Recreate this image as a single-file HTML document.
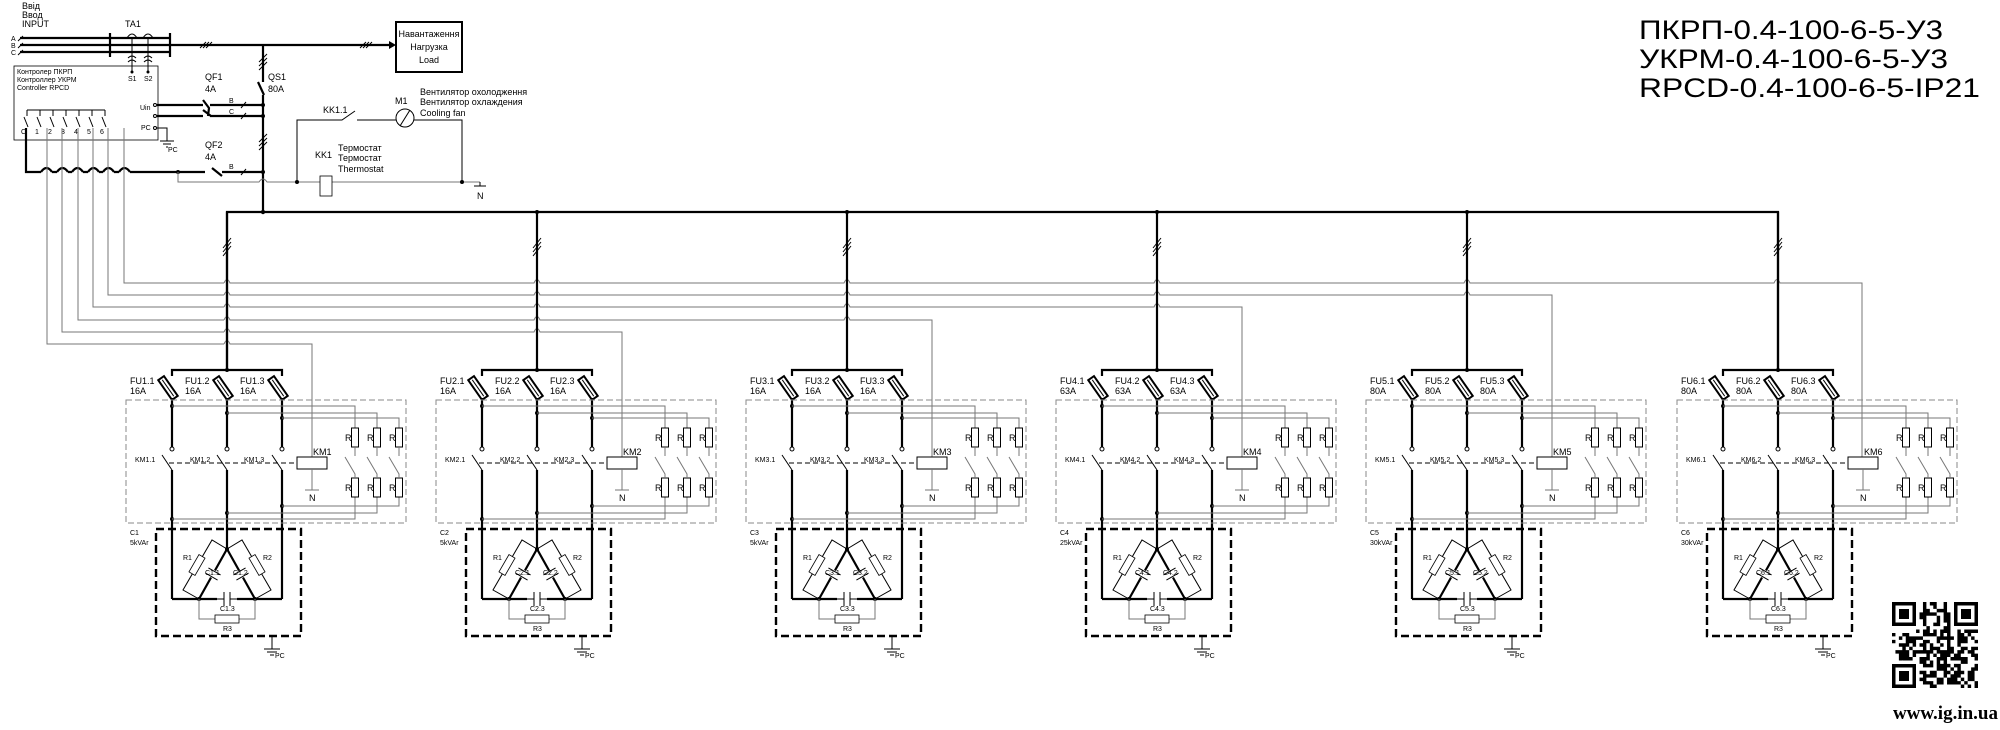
<!DOCTYPE html>
<html><head><meta charset="utf-8"><style>
html,body{margin:0;padding:0;background:#fff;}
svg{display:block;font-family:"Liberation Sans","DejaVu Sans",sans-serif;}
.t{font-size:9px;fill:#000}
.s{font-size:7px;fill:#000}
.k{stroke:#000;stroke-width:2.2;fill:none}
.n{stroke:#000;stroke-width:1;fill:none}
.g{stroke:#777;stroke-width:1;fill:none}
</style></head><body>
<svg width="2000" height="730" viewBox="0 0 2000 730" xmlns="http://www.w3.org/2000/svg">
<defs>
<g id="fuse"><rect x="-3.5" y="-12" width="7" height="24" fill="#fff" stroke="#000" stroke-width="2"/><line x1="0" y1="-10" x2="0" y2="10" stroke="#000" stroke-width="1"/></g>
<g id="rs"><rect x="-3.5" y="0" width="7" height="19" fill="#fff" stroke="#000" stroke-width="1"/></g>
<g id="br">
 <line class="k" x1="0" y1="212" x2="0" y2="370"/>
 <path class="n" stroke-width="1.6" d="M-4 252 L4 242 M-4 256 L4 246 M-4 248 L4 238"/>
 <path class="k" d="M-55 376 V370 H55 V376"/>
 <circle cx="0" cy="370" r="2"/>
 <use href="#fuse" transform="translate(-59,388) rotate(-35)"/>
 <use href="#fuse" transform="translate(-4,388) rotate(-35)"/>
 <use href="#fuse" transform="translate(51,388) rotate(-35)"/>
 <path class="k" d="M-55 398 V447 M0 398 V447 M55 398 V447"/>
 <circle cx="-55" cy="449" r="2" fill="#fff" stroke="#000"/><circle cx="0" cy="449" r="2" fill="#fff" stroke="#000"/><circle cx="55" cy="449" r="2" fill="#fff" stroke="#000"/>
 <path class="n" stroke-width="1.6" d="M-65 455 L-55 470 M-10 455 L0 470 M45 455 L55 470"/>
 <path class="k" d="M-55 470 V599 M0 470 V549 M55 470 V599 M-55 599 H55"/>
 <path class="n" stroke-dasharray="5,3" d="M-58 463 H70"/>
 <circle cx="-55" cy="406" r="2"/><circle cx="0" cy="413" r="2"/><circle cx="55" cy="418" r="2"/>
 <circle cx="-55" cy="519" r="2"/><circle cx="0" cy="513" r="2"/><circle cx="55" cy="506" r="2"/>
 <path class="g" d="M-55 406 H128 V428 M0 413 H150 V428 M55 418 H172 V428"/>
 <path class="g" d="M-55 519 H128 V497 M0 513 H150 V497 M55 506 H172 V497"/>
 <use href="#rs" transform="translate(128,428)"/><use href="#rs" transform="translate(150,428)"/><use href="#rs" transform="translate(172,428)"/>
 <use href="#rs" transform="translate(128,478)"/><use href="#rs" transform="translate(150,478)"/><use href="#rs" transform="translate(172,478)"/>
 <path class="g" d="M128 447 V456 M118 457 L128 474 V478 M150 447 V456 M140 457 L150 474 V478 M172 447 V456 M162 457 L172 474 V478"/>
 <text class="t" x="118" y="441">R</text><text class="t" x="140" y="441">R</text><text class="t" x="162" y="441">R</text>
 <text class="t" x="118" y="491">R</text><text class="t" x="140" y="491">R</text><text class="t" x="162" y="491">R</text>
 <rect x="70" y="457" width="30" height="12" fill="#fff" stroke="#000"/>
 <path class="g" d="M85 469 V490 M78 490 H92"/>
 <text class="t" x="82" y="501">N</text>
 <rect x="-101" y="400" width="280" height="123" fill="none" stroke="#888" stroke-dasharray="6,3"/>
 <rect x="-71" y="529" width="145" height="107" fill="none" stroke="#000" stroke-width="2.4" stroke-dasharray="8,4"/>
 <path class="k" d="M-28 599 L0 549 L28 599"/>
 <circle cx="0" cy="549" r="2"/><circle cx="-28" cy="599" r="2"/><circle cx="28" cy="599" r="2"/>
 <rect x="-10" y="594" width="20" height="10" fill="#fff" stroke="none"/>
 <path class="n" stroke-width="2" d="M-3 592 V606 M3 592 V606 M-10 599 H-3 M3 599 H10"/>
 <g transform="translate(-14,574) rotate(30)"><rect x="-8" y="-4" width="16" height="8" fill="#fff"/><path class="n" stroke-width="2" d="M-7 -3 H7 M-7 3 H7"/></g>
 <g transform="translate(14,574) rotate(-30)"><rect x="-8" y="-4" width="16" height="8" fill="#fff"/><path class="n" stroke-width="2" d="M-7 -3 H7 M-7 3 H7"/></g>
 <path class="n" stroke-width="0.8" d="M0 549 L-15 540 L-44 590 L-28 599 M0 549 L15 540 L44 590 L28 599"/>
 <g transform="translate(-30,565) rotate(30)"><rect x="-3.5" y="-10" width="7" height="20" fill="#fff" stroke="#000" stroke-width="0.8"/></g>
 <g transform="translate(30,565) rotate(-30)"><rect x="-3.5" y="-10" width="7" height="20" fill="#fff" stroke="#000" stroke-width="0.8"/></g>
 <path class="g" d="M-28 599 V619 H28 V599"/>
 <rect x="-12" y="615" width="24" height="8" fill="#fff" stroke="#000" stroke-width="0.8"/>
 <text class="s" x="-44" y="560">R1</text><text class="s" x="36" y="560">R2</text><text class="s" x="-4" y="631">R3</text>
 <path class="n" stroke-width="1.6" d="M45 636 V649 M37 649 H53 M40 652 H50 M43 655 H47"/>
 <text class="s" x="48" y="658">PC</text>
</g>
</defs>

<text x="1639" y="39" font-size="27" fill="#000" textLength="304" lengthAdjust="spacingAndGlyphs">ПКРП-0.4-100-6-5-У3</text>
<text x="1639" y="68" font-size="27" fill="#000" textLength="309" lengthAdjust="spacingAndGlyphs">УКРМ-0.4-100-6-5-У3</text>
<text x="1639" y="97" font-size="27" fill="#000" textLength="341" lengthAdjust="spacingAndGlyphs">RPCD-0.4-100-6-5-IP21</text>

<text class="t" x="22" y="9">Ввід</text><text class="t" x="22" y="18">Ввод</text><text class="t" x="22" y="27">INPUT</text>
<text class="s" x="11" y="41">A</text><text class="s" x="11" y="48">B</text><text class="s" x="11" y="55">C</text>
<path class="n" stroke-width="2" d="M18 41 L23 36 M18 48 L23 43 M18 55 L23 50"/>
<path class="k" d="M20 38 H170 M20 45 H170 M20 52 H170"/>
<path class="k" d="M110 33 V57 M170 33 V57"/>
<text class="t" x="125" y="27">TA1</text>
<path class="n" d="M127 38 Q132 30 137 38 M143 38 Q148 30 153 38 M132 38 V72 M148 38 V72"/>
<path class="n" d="M128 58 Q132 54 136 58 M128 62 Q132 58 136 62 M144 58 Q148 54 152 58 M144 62 Q148 58 152 62"/>
<circle cx="132" cy="72" r="1.5"/><circle cx="148" cy="72" r="1.5"/>
<text class="s" x="128" y="81">S1</text><text class="s" x="144" y="81">S2</text>
<path class="k" d="M170 45 H390"/>
<path fill="#000" d="M389 41 L396 45 L389 49Z"/>
<path class="n" stroke-width="1.6" d="M200 48 L206 42 M203 48 L209 42 M206 48 L212 42 M360 48 L366 42 M363 48 L369 42 M366 48 L372 42"/>
<rect x="396" y="22" width="66" height="50" fill="none" stroke="#000" stroke-width="2"/>
<text class="t" x="429" y="37" text-anchor="middle">Навантаження</text>
<text class="t" x="429" y="50" text-anchor="middle">Нагрузка</text>
<text class="t" x="429" y="63" text-anchor="middle">Load</text>

<rect x="14" y="66" width="144" height="74" fill="none" stroke="#000" stroke-width="0.8"/>
<text class="s" x="17" y="74">Контролер ПКРП</text>
<text class="s" x="17" y="82">Контроллер УКРМ</text>
<text class="s" x="17" y="90">Controller RPCD</text>
<path class="n" stroke-width="0.8" d="M27 110 H105 M27 110 V116 M40 110 V116 M53 110 V116 M66 110 V116 M79 110 V116 M92 110 V116 M105 110 V116"/>
<path class="n" stroke-width="0.8" d="M24 117 L28 127 M37 117 L41 127 M50 117 L54 127 M63 117 L67 127 M76 117 L80 127 M89 117 L93 127 M102 117 L106 127"/>
<text class="s" x="21" y="134">C</text><text class="s" x="35" y="134">1</text><text class="s" x="48" y="134">2</text><text class="s" x="61" y="134">3</text><text class="s" x="74" y="134">4</text><text class="s" x="87" y="134">5</text><text class="s" x="100" y="134">6</text>
<text class="s" x="140" y="110">Uin</text><text class="s" x="141" y="130">PC</text>
<circle cx="155" cy="105" r="1.5" fill="#fff" stroke="#000"/><circle cx="155" cy="116" r="1.5" fill="#fff" stroke="#000"/><circle cx="155" cy="128" r="1.5" fill="#fff" stroke="#000"/>
<path class="n" d="M157 128 H167 V141 M160 141 H174 M163 144 H171 M166 147 H168"/>
<text class="s" x="168" y="152">PC</text>
<path class="k" d="M26 128 V172 H41 M52 172 H57 M68 172 H72 M83 172 H88 M99 172 H103 M114 172 H119 M130 172 H205"/>
<path class="k" d="M41 172 Q46.5 164 52 172 M57 172 Q62.5 164 68 172 M72 172 Q77.5 164 83 172 M88 172 Q93.5 164 99 172 M103 172 Q108.5 164 114 172 M119 172 Q124.5 164 130 172"/>
<path class="g" d="M47 128 V344 H224 M62 128 V332 H224 M78 128 V320 H224 M93 128 V307 H224 M108 128 V295 H224 M124 128 V283 H224"/>

<text class="t" x="268" y="80">QS1</text><text class="t" x="268" y="92">80A</text>
<text class="t" x="205" y="80">QF1</text><text class="t" x="205" y="92">4A</text>
<path class="k" d="M263 45 V82 M263 95 V212 M258 82 L264 95"/>
<path class="n" stroke-width="1.6" d="M259 66 L267 58 M259 62 L267 54 M259 70 L267 62 M259 146 L267 138 M259 142 L267 134 M259 150 L267 142"/>
<path class="k" d="M157 105 H203 M157 116 H203 M210 105 H263 M210 116 H263 M203 100 L209 108 L208 116 M203 110 L211 116"/>
<path class="n" stroke-width="1.6" d="M241 108 L246 102 M241 119 L246 113 M241 175 L246 169"/>
<text class="s" x="229" y="103">B</text><text class="s" x="229" y="114">C</text>
<circle cx="263" cy="105" r="2"/><circle cx="263" cy="116" r="2"/><circle cx="263" cy="172" r="2"/><circle cx="263" cy="212" r="2.2"/>
<text class="t" x="205" y="148">QF2</text><text class="t" x="205" y="160">4A</text>
<path class="k" d="M212 168 L222 176 M222 172 H263"/>
<circle cx="178" cy="172" r="2"/>
<text class="s" x="229" y="169">B</text>
<path class="g" d="M178 172 V182 H259 Q263 176 267 182 H480"/>
<circle cx="297" cy="182" r="2"/><circle cx="462" cy="182" r="2"/>
<rect x="320" y="176" width="12" height="20" fill="#fff" stroke="#000" stroke-width="0.8"/>
<text class="t" x="315" y="158">KK1</text>
<text class="t" x="338" y="151">Термостат</text><text class="t" x="338" y="161">Термостат</text><text class="t" x="338" y="172">Thermostat</text>
<path class="n" stroke-width="0.8" d="M297 182 V120 H342 L355 111 M357 120 H396 M414 120 H462 V182"/>
<circle cx="405" cy="118" r="9" fill="#fff" stroke="#000"/>
<path class="n" stroke-width="0.8" d="M400 126 L410 110"/>
<text class="t" x="323" y="113">KK1.1</text><text class="t" x="395" y="104">M1</text>
<text class="t" x="420" y="95">Вентилятор охолодження</text><text class="t" x="420" y="105">Вентилятор охлаждения</text><text class="t" x="420" y="116">Cooling fan</text>
<path class="n" d="M480 182 V186 M474 186 H486"/><text class="t" x="477" y="199">N</text>

<path class="k" d="M227 370 V212 H1778 V370"/>
<circle cx="537" cy="212" r="2"/><circle cx="847" cy="212" r="2"/><circle cx="1157" cy="212" r="2"/><circle cx="1467" cy="212" r="2"/>

<path class="g" d="M224 344 Q227 337 230 344 H312 V457"/>
<path class="g" d="M224 332 Q227 325 230 332 H534 Q537 325 540 332 H622 V457"/>
<path class="g" d="M224 320 Q227 313 230 320 H534 Q537 313 540 320 H844 Q847 313 850 320 H932 V457"/>
<path class="g" d="M224 307 Q227 300 230 307 H534 Q537 300 540 307 H844 Q847 300 850 307 H1154 Q1157 300 1160 307 H1242 V457"/>
<path class="g" d="M224 295 Q227 288 230 295 H534 Q537 288 540 295 H844 Q847 288 850 295 H1154 Q1157 288 1160 295 H1464 Q1467 288 1470 295 H1552 V457"/>
<path class="g" d="M224 283 Q227 276 230 283 H534 Q537 276 540 283 H844 Q847 276 850 283 H1154 Q1157 276 1160 283 H1464 Q1467 276 1470 283 H1774 Q1777 276 1780 283 H1862 V457"/>

<g transform="translate(227,0)"><use href="#br"/>
<text class="t" x="-97" y="384">FU1.1</text><text class="t" x="-97" y="394">16A</text>
<text class="t" x="-42" y="384">FU1.2</text><text class="t" x="-42" y="394">16A</text>
<text class="t" x="13" y="384">FU1.3</text><text class="t" x="13" y="394">16A</text>
<text class="s" x="-92" y="462">KM1.1</text><text class="s" x="-37" y="462">KM1.2</text><text class="s" x="17" y="462">KM1.3</text>
<text class="t" x="86" y="455">KM1</text>
<text class="s" x="-97" y="535">C1</text><text class="s" x="-97" y="545">5kVAr</text>
<text class="s" x="-22" y="575">C1.1</text><text class="s" x="6" y="575">C1.2</text><text class="s" x="-7" y="611">C1.3</text>
</g>
<g transform="translate(537,0)"><use href="#br"/>
<text class="t" x="-97" y="384">FU2.1</text><text class="t" x="-97" y="394">16A</text>
<text class="t" x="-42" y="384">FU2.2</text><text class="t" x="-42" y="394">16A</text>
<text class="t" x="13" y="384">FU2.3</text><text class="t" x="13" y="394">16A</text>
<text class="s" x="-92" y="462">KM2.1</text><text class="s" x="-37" y="462">KM2.2</text><text class="s" x="17" y="462">KM2.3</text>
<text class="t" x="86" y="455">KM2</text>
<text class="s" x="-97" y="535">C2</text><text class="s" x="-97" y="545">5kVAr</text>
<text class="s" x="-22" y="575">C2.1</text><text class="s" x="6" y="575">C2.2</text><text class="s" x="-7" y="611">C2.3</text>
</g>
<g transform="translate(847,0)"><use href="#br"/>
<text class="t" x="-97" y="384">FU3.1</text><text class="t" x="-97" y="394">16A</text>
<text class="t" x="-42" y="384">FU3.2</text><text class="t" x="-42" y="394">16A</text>
<text class="t" x="13" y="384">FU3.3</text><text class="t" x="13" y="394">16A</text>
<text class="s" x="-92" y="462">KM3.1</text><text class="s" x="-37" y="462">KM3.2</text><text class="s" x="17" y="462">KM3.3</text>
<text class="t" x="86" y="455">KM3</text>
<text class="s" x="-97" y="535">C3</text><text class="s" x="-97" y="545">5kVAr</text>
<text class="s" x="-22" y="575">C3.1</text><text class="s" x="6" y="575">C3.2</text><text class="s" x="-7" y="611">C3.3</text>
</g>
<g transform="translate(1157,0)"><use href="#br"/>
<text class="t" x="-97" y="384">FU4.1</text><text class="t" x="-97" y="394">63A</text>
<text class="t" x="-42" y="384">FU4.2</text><text class="t" x="-42" y="394">63A</text>
<text class="t" x="13" y="384">FU4.3</text><text class="t" x="13" y="394">63A</text>
<text class="s" x="-92" y="462">KM4.1</text><text class="s" x="-37" y="462">KM4.2</text><text class="s" x="17" y="462">KM4.3</text>
<text class="t" x="86" y="455">KM4</text>
<text class="s" x="-97" y="535">C4</text><text class="s" x="-97" y="545">25kVAr</text>
<text class="s" x="-22" y="575">C4.1</text><text class="s" x="6" y="575">C4.2</text><text class="s" x="-7" y="611">C4.3</text>
</g>
<g transform="translate(1467,0)"><use href="#br"/>
<text class="t" x="-97" y="384">FU5.1</text><text class="t" x="-97" y="394">80A</text>
<text class="t" x="-42" y="384">FU5.2</text><text class="t" x="-42" y="394">80A</text>
<text class="t" x="13" y="384">FU5.3</text><text class="t" x="13" y="394">80A</text>
<text class="s" x="-92" y="462">KM5.1</text><text class="s" x="-37" y="462">KM5.2</text><text class="s" x="17" y="462">KM5.3</text>
<text class="t" x="86" y="455">KM5</text>
<text class="s" x="-97" y="535">C5</text><text class="s" x="-97" y="545">30kVAr</text>
<text class="s" x="-22" y="575">C5.1</text><text class="s" x="6" y="575">C5.2</text><text class="s" x="-7" y="611">C5.3</text>
</g>
<g transform="translate(1778,0)"><use href="#br"/>
<text class="t" x="-97" y="384">FU6.1</text><text class="t" x="-97" y="394">80A</text>
<text class="t" x="-42" y="384">FU6.2</text><text class="t" x="-42" y="394">80A</text>
<text class="t" x="13" y="384">FU6.3</text><text class="t" x="13" y="394">80A</text>
<text class="s" x="-92" y="462">KM6.1</text><text class="s" x="-37" y="462">KM6.2</text><text class="s" x="17" y="462">KM6.3</text>
<text class="t" x="86" y="455">KM6</text>
<text class="s" x="-97" y="535">C6</text><text class="s" x="-97" y="545">30kVAr</text>
<text class="s" x="-22" y="575">C6.1</text><text class="s" x="6" y="575">C6.2</text><text class="s" x="-7" y="611">C6.3</text>
</g>

<g transform="translate(1892,602)">
<rect x="0" y="0" width="86" height="86" fill="#fff"/>
<path fill="#000" d="M0 0h24v24h-24z M62 0h24v24h-24z M0 62h24v24h-24z"/>
<path fill="#fff" d="M3.5 3.5h17v17h-17z M65.5 3.5h17v17h-17z M3.5 65.5h17v17h-17z"/>
<path fill="#000" d="M7 7h10v10h-10z M69 7h10v10h-10z M7 69h10v10h-10z"/>
<g id="qrfill" fill="#000"></g>
</g>
<text x="1998" y="719" text-anchor="end" font-family="Liberation Serif, serif" font-weight="bold" font-size="19" fill="#000">www.ig.in.ua</text>
<script>
(function(){var g=document.getElementById('qrfill');var s=7;var d='';var c=3.44;
for(var r=0;r<25;r++)for(var q=0;q<25;q++){
 if((r<8&&q<8)||(r<8&&q>16)||(r>16&&q<8))continue;
 s=(s*1103515245+12345)&0x7fffffff; if(((s>>8)%100)<52) d+='M'+(q*c).toFixed(2)+' '+(r*c).toFixed(2)+'h'+c+'v'+c+'h-'+c+'z';}
var p=document.createElementNS('http://www.w3.org/2000/svg','path');p.setAttribute('d',d);g.appendChild(p);})();
</script>
</svg>
</body></html>
